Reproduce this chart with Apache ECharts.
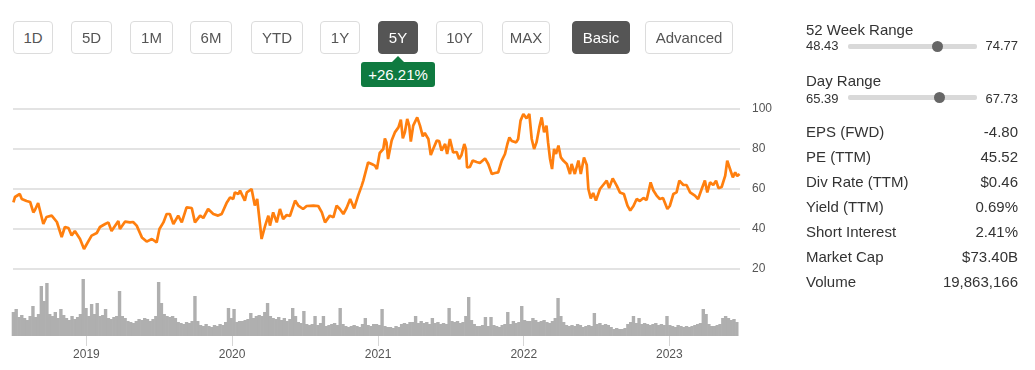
<!DOCTYPE html>
<html>
<head>
<meta charset="utf-8">
<script src="https://cdn.jsdelivr.net/npm/echarts@6/dist/echarts.min.js"></script>
<style>
  html, body { margin: 0; padding: 0; background: #fff; }
  body { width: 1035px; height: 370px; position: relative; overflow: hidden;
         font-family: Arial, "Liberation Sans", Helvetica, sans-serif; color: #333; }
  #chart { position: absolute; left: 0; top: 0; width: 1035px; height: 370px; }
  .btn { position: absolute; top: 21px; height: 31px; border: 1px solid #dcdcdc; border-radius: 4px;
         box-sizing: content-box; font-size: 15px; color: #555; line-height: 31px; text-align: center; background: #fff; }
  .btn.active { background: #555; border-color: #555; color: #fff; }
  #badge { position: absolute; left: 361px; top: 62px; width: 74px; height: 25px; background: #0f7a40;
           border-radius: 3px; color: #fff; font-size: 15px; line-height: 25px; text-align: center; }
  #badge:before { content: ""; position: absolute; left: 31px; top: -6px; border-left: 6px solid transparent;
           border-right: 6px solid transparent; border-bottom: 6px solid #0f7a40; }
  .lbl { position: absolute; left: 806px; font-size: 15px; color: #333; white-space: nowrap; }
  .val { position: absolute; right: 17px; font-size: 15px; color: #333; text-align: right; white-space: nowrap; }
  .small { font-size: 13px; }
  .track { position: absolute; left: 848px; width: 129px; height: 5px; background: #d9d9d9; border-radius: 2px; }
  .dot { position: absolute; width: 11px; height: 11px; border-radius: 50%; background: #666; }
</style>
</head>
<body>
<div id="chart"></div>
<div id="ui"></div>
<script>
// ---------------- DATA ----------------
const rangeButtons = ['1D', '5D', '1M', '6M', 'YTD', '1Y', '5Y', '10Y', 'MAX', 'Basic', 'Advanced'];
const activeButtons = ['5Y', 'Basic'];
const changeLabel = '+26.21%';

const weekRangeLow = '48.43', weekRangeHigh = '74.77';
const dayRangeLow = '65.39', dayRangeHigh = '67.73';
const statLabels = ['EPS (FWD)', 'PE (TTM)', 'Div Rate (TTM)', 'Yield (TTM)', 'Short Interest', 'Market Cap', 'Volume'];
const statValues = ['-4.80', '45.52', '$0.46', '0.69%', '2.41%', '$73.40B', '19,863,166'];

const axisStart = '2018-07-01';
const axisEnd = '2023-06-27';
const yearTicks = ['2019-01-01', '2020-01-01', '2021-01-01', '2022-01-01', '2023-01-01'];
const priceTicks = [20, 40, 60, 80, 100];

const priceDates = [
'2018-07-02','2018-07-06','2018-07-18','2018-07-23','2018-08-04','2018-08-13','2018-08-21','2018-08-25','2018-09-02','2018-09-07',
'2018-09-15','2018-09-23','2018-10-06','2018-10-19','2018-10-31','2018-11-08','2018-11-17','2018-11-25','2018-12-03','2018-12-16',
'2018-12-26','2019-01-02','2019-01-14','2019-01-27','2019-02-04','2019-02-17','2019-02-25','2019-03-05','2019-03-22','2019-03-26',
'2019-04-08','2019-04-20','2019-04-28','2019-05-07','2019-05-20','2019-06-01','2019-06-14','2019-06-26','2019-07-03','2019-07-13',
'2019-07-21','2019-07-29','2019-08-07','2019-08-19','2019-08-28','2019-09-09','2019-09-22','2019-09-30','2019-10-13','2019-10-21',
'2019-11-02','2019-11-15','2019-11-27','2019-12-06','2019-12-19','2019-12-27','2020-01-04','2020-01-08','2020-01-17','2020-01-21',
'2020-02-02','2020-02-07','2020-02-19','2020-02-27','2020-03-04','2020-03-15','2020-03-24','2020-04-01','2020-04-05','2020-04-13',
'2020-04-22','2020-04-30','2020-05-08','2020-05-17','2020-05-25','2020-06-07','2020-06-15','2020-06-27','2020-07-06','2020-07-23',
'2020-08-04','2020-08-13','2020-08-21','2020-09-02','2020-09-11','2020-09-19','2020-09-27','2020-10-06','2020-10-14','2020-10-23',
'2020-11-02','2020-11-12','2020-11-21','2020-11-25','2020-12-07','2020-12-16','2020-12-24','2020-12-29','2021-01-05','2021-01-14',
'2021-01-18','2021-01-22','2021-01-26','2021-02-04','2021-02-12','2021-02-21','2021-02-27','2021-03-04','2021-03-09','2021-03-15',
'2021-03-20','2021-03-24','2021-03-30','2021-04-09','2021-04-16','2021-04-23','2021-04-28','2021-05-07','2021-05-13','2021-05-19',
'2021-05-28','2021-06-03','2021-06-09','2021-06-18','2021-06-23','2021-06-30','2021-07-08','2021-07-17','2021-07-23','2021-07-29',
'2021-08-05','2021-08-09','2021-08-12','2021-08-19','2021-08-26','2021-09-05','2021-09-13','2021-09-26','2021-10-04','2021-10-13',
'2021-10-21','2021-10-29','2021-11-07','2021-11-15','2021-11-21','2021-11-26','2021-12-02','2021-12-06','2021-12-13','2021-12-18',
'2021-12-24','2021-12-31','2022-01-08','2022-01-15','2022-01-21','2022-01-27','2022-02-02','2022-02-09','2022-02-15','2022-02-21',
'2022-02-27','2022-03-03','2022-03-08','2022-03-13','2022-03-18','2022-03-23','2022-03-29','2022-04-04','2022-04-10','2022-04-19',
'2022-04-27','2022-05-01','2022-05-09','2022-05-18','2022-05-24','2022-06-01','2022-06-08','2022-06-12','2022-06-18','2022-06-24',
'2022-07-01','2022-07-11','2022-07-19','2022-07-28','2022-08-03','2022-08-12','2022-08-22','2022-08-30','2022-09-09','2022-09-18',
'2022-09-25','2022-10-03','2022-10-11','2022-10-19','2022-10-28','2022-11-05','2022-11-15','2022-11-22','2022-11-30','2022-12-08',
'2022-12-16','2022-12-27','2023-01-02','2023-01-11','2023-01-19','2023-01-26','2023-02-05','2023-02-13','2023-02-22','2023-03-06',
'2023-03-14','2023-03-23','2023-03-31','2023-04-06','2023-04-13','2023-04-21','2023-04-28','2023-05-04','2023-05-12','2023-05-21',
'2023-05-26','2023-06-02','2023-06-09','2023-06-15','2023-06-20','2023-06-26'
];
const priceValues = [
53.3,56,57.5,55,54,53.5,48.3,49.5,53,52.5,
42.5,46,46.7,43.5,36,41,40.5,36.7,39,35,
30,32.5,36.7,38,41,42.5,43.3,39,44,40,
43.7,43.3,43.5,41.7,35.8,33.7,35,33.3,40,43.3,
47.5,47.5,42.5,46.7,43.3,50.8,50.5,43.3,46.7,45.5,
50,47.5,46.7,47.5,53.3,55.8,55,58.3,57.5,59.2,
54.2,58.3,60,51.7,55,35,41.7,46.7,41.7,48.3,
43.3,50,45,47,46.5,54.2,51.7,50,51.5,51.7,
51.5,48.3,43.3,46.7,45.8,51.7,50,47.5,50.5,55,
50.3,56.7,61.7,64.2,73.3,72.5,71.7,70,78,80,
85.3,83.3,75,84.2,88.3,90.8,94.7,85.3,88.3,95,
91.7,83.7,91.7,95.8,91.7,86.3,88,85,77,80,
84.2,84,79.2,82.5,77.5,85,78.3,78.5,75,77,
82.5,80,70.8,71,74.2,73.5,73,75.3,72.5,67.5,
68,68.3,74.2,77.5,82.5,85.8,84,85,83.3,85,
94.2,97.5,95.3,97.5,85,80,83.3,90.8,95.8,88.3,
91.7,83.3,75,70,80,77.5,81.7,75.8,74.2,72.5,
67.5,72.5,67.5,74.2,67.5,75.8,72,60,55.3,58,
54.2,60,62,64.2,60.5,65.3,61.7,58.3,57.5,51.7,
49.2,51.5,55,54,55.5,54.5,63.3,59.2,56.7,55,
55.5,50,51.5,57.5,58.3,64.2,62,62,58.3,56.7,
55,60,64.2,58.3,63.3,62,64.2,60.4,61,66.7,
74.2,70,65.8,68.3,66.5,67.5
];

// weekly volume (millions of shares), weeks starting 2018-07-02
const volumeFirstWeek = '2018-07-02';
const volumeValues = [
24,27,19,21,18,16,20,30,19,22,50,35,53,
22,20,24,18,27,21,18,16,20,17,19,22,57,
28,20,32,22,33,20,21,27,18,17,19,20,45,
20,18,15,14,13,15,17,16,18,17,15,17,20,
54,33,22,20,19,20,18,14,13,12,14,13,15,
40,15,11,10,12,10,9,11,10,12,11,14,28,
18,27,14,15,15,16,17,23,18,20,21,20,24,
33,20,18,17,19,16,18,15,17,28,20,14,13,
25,12,11,12,20,11,13,20,10,11,12,13,11,
28,12,10,9,10,11,10,9,12,18,11,10,12,
12,11,27,10,9,9,8,10,9,12,13,12,14,
14,20,13,15,13,14,12,18,13,14,12,13,12,
28,15,14,15,13,14,20,39,16,12,10,10,11,
19,10,19,11,10,9,11,12,24,12,15,13,14,
30,16,15,15,18,16,14,15,16,14,13,15,18,
38,20,14,11,10,11,10,12,11,9,10,11,10,
23,12,13,11,12,11,9,7,8,7,7,8,12,
14,20,13,18,12,13,12,11,12,13,11,12,11,
20,11,10,9,11,10,9,10,9,10,11,12,13,
27,22,12,10,10,11,12,18,20,18,16,17,14
];

// ---------------- UI (HTML text) ----------------
const btnBox = [[13,40],[71,41],[130,43],[190,42],[251,52],[320,40],[378,40],[436,47],[502,48],[572,58],[645,88]];
const ui = document.getElementById('ui');
let html = '';
rangeButtons.forEach((b, i) => {
  const [l, w] = btnBox[i];
  html += `<div class="btn${activeButtons.includes(b) ? ' active' : ''}" style="left:${l}px;width:${w - 2}px">${b}</div>`;
});
html += `<div id="badge">${changeLabel}</div>`;
html += `<div class="lbl" style="top:21px">52 Week Range</div>`;
html += `<div class="lbl small" style="top:38px">${weekRangeLow}</div>`;
html += `<div class="track" style="top:44px"></div><div class="dot" style="left:932px;top:41px"></div>`;
html += `<div class="val small" style="top:38px">${weekRangeHigh}</div>`;
html += `<div class="lbl" style="top:72px">Day Range</div>`;
html += `<div class="lbl small" style="top:91px">${dayRangeLow}</div>`;
html += `<div class="track" style="top:95px"></div><div class="dot" style="left:934px;top:92px"></div>`;
html += `<div class="val small" style="top:91px">${dayRangeHigh}</div>`;
statLabels.forEach((s, i) => {
  const top = 123 + i * 25;
  html += `<div class="lbl" style="top:${top}px">${s}</div><div class="val" style="top:${top}px">${statValues[i]}</div>`;
});
ui.innerHTML = html;

// ---------------- CHART ----------------
const toTime = d => new Date(d + 'T00:00:00Z').getTime();
const priceData = priceDates.map((d, i) => [toTime(d), priceValues[i]]);
const wk0 = toTime(volumeFirstWeek);
const volumeData = volumeValues.map((v, i) => [wk0 + i * 7 * 86400000, v]);
const tMin = toTime(axisStart);
const tMax = toTime(axisEnd);
const tickTimes = yearTicks.map(toTime);

const chart = echarts.init(document.getElementById('chart'), null, { renderer: 'canvas' });
chart.setOption({
  animation: false,
  textStyle: { fontFamily: 'Arial, "Liberation Sans", Helvetica, sans-serif' },
  grid: [
    { left: 13, right: 295, top: 109, height: 160 },
    { left: 13, right: 295, top: 269, height: 67 }
  ],
  xAxis: [
    { type: 'value', gridIndex: 0, min: tMin, max: tMax, show: false, splitLine: { show: false } },
    { type: 'value', gridIndex: 1, min: tMin, max: tMax,
      axisLine: { show: false },
      axisTick: { show: true, customValues: tickTimes, length: 10, lineStyle: { color: '#d6d6d6' } },
      axisLabel: { customValues: tickTimes, color: '#555', fontSize: 12, margin: 13,
        formatter: v => String(new Date(v).getUTCFullYear()) },
      splitLine: { show: false } }
  ],
  yAxis: [
    { type: 'value', gridIndex: 0, position: 'right', min: priceTicks[0], max: priceTicks[priceTicks.length - 1], interval: 20,
      axisLine: { show: false }, axisTick: { show: false },
      axisLabel: { color: '#555', fontSize: 12, margin: 12 },
      splitLine: { lineStyle: { color: '#dadada', width: 1.5 } } },
    { type: 'value', gridIndex: 1, min: 0, max: 67, show: false, splitLine: { show: false } }
  ],
  series: [
    { type: 'bar', xAxisIndex: 1, yAxisIndex: 1, data: volumeData, barWidth: 3.4,
      itemStyle: { color: '#afafaf' }, silent: true },
    { type: 'line', xAxisIndex: 0, yAxisIndex: 0, data: priceData, showSymbol: false,
      lineStyle: { color: '#ff7f0e', width: 2.7 }, silent: true }
  ]
});
</script>
</body>
</html>
